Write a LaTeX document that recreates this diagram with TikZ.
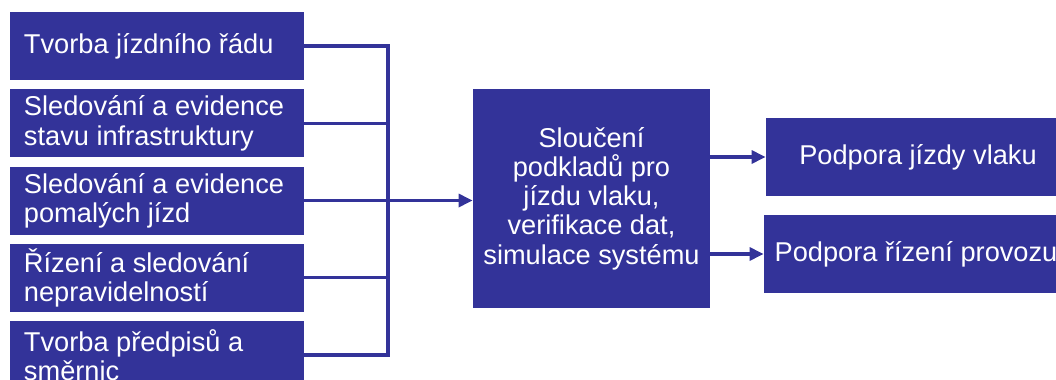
\documentclass[tikz,border=0pt]{standalone}
\usepackage{fontspec}
\setmainfont{Liberation Sans}
\usetikzlibrary{arrows.meta}

\definecolor{boxblue}{RGB}{51,51,153}

\tikzset{
  box/.style={fill=boxblue, text=white, inner sep=0pt,
              font=\fontsize{13.6}{14.6}\selectfont},
  sourcebox/.style={box, minimum height=34pt, inner xsep=7pt,
                    text width=133pt, align=flush left},
  mergebox/.style={box, minimum width=118.5pt, minimum height=109.5pt,
                   align=center},
  targetbox/.style={box, minimum width=152pt, minimum height=39pt},
  link/.style={draw=boxblue, line width=1.6pt, line cap=rect},
  feed/.style={draw=boxblue, line width=1.6pt,
               -{Triangle[length=7pt,width=6.5pt]}}
}

\begin{document}
\begin{tikzpicture}[x=0.5pt, y=-0.5pt]
\useasboundingbox (0,0) rectangle (1056,380);
\clip (0,0) rectangle (1056,380);

% sources
\node[sourcebox] (jizdniRad) at (157,46) {Tvorba jízdního řádu};
\node[sourcebox] (infra) at (157,123.3) {Sledování a evidence\\stavu infrastruktury};
\node[sourcebox] (pomale) at (157,200.5) {Sledování a evidence\\pomalých jízd};
\node[sourcebox] (neprav) at (157,277.8) {Řízení a sledování\\nepravidelností};
\node[sourcebox] (predpisy) at (157,355) {Tvorba předpisů a\\směrnic};

% merge
\node[mergebox] (merge) at (591.5,198.5)
  {Sloučení\\podkladů pro\\jízdu vlaku,\\verifikace dat,\\simulace systému};

% targets
\node[targetbox] (jizda) at (918,157) {Podpora jízdy vlaku};
\node[targetbox] (provoz) at (916,254) {Podpora řízení provozu};

% connectors
\coordinate (spine) at (388,0);
\foreach \n in {jizdniRad,infra,pomale,neprav,predpisy}
  \draw[link] (\n.east) -- (\n.east -| spine);
\draw[link] (jizdniRad.east -| spine) -- (predpisy.east -| spine);
\draw[feed] (pomale.east -| spine) -- (pomale.east -| merge.west);
\draw[feed] (merge.east |- jizda.west) -- (jizda.west);
\draw[feed] (merge.east |- provoz.west) -- (provoz.west);
\end{tikzpicture}
\end{document}
